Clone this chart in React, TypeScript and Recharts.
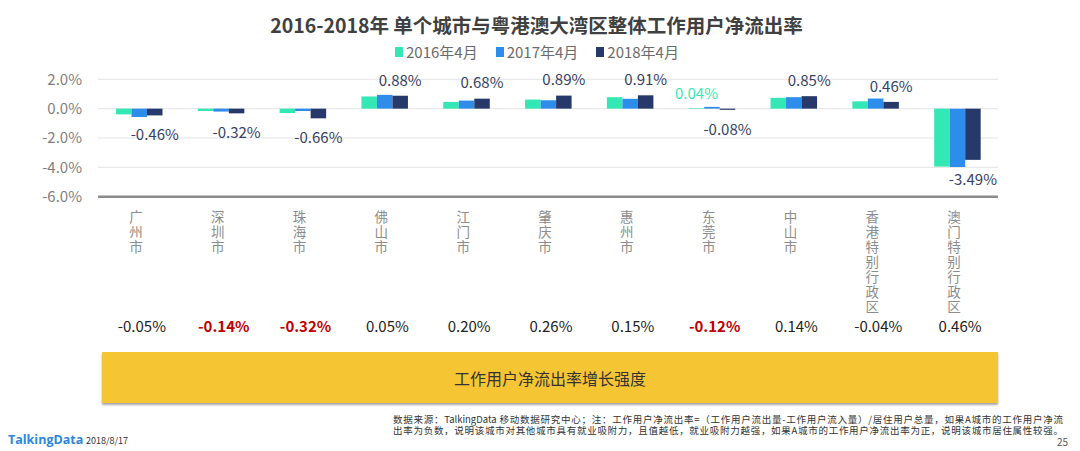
import React from 'react';
import { BarChart, Bar, XAxis, YAxis, CartesianGrid, Legend, LabelList } from 'recharts';

const cities = ['广州市', '深圳市', '珠海市', '佛山市', '江门市', '肇庆市', '惠州市', '东莞市', '中山市', '香港特别行政区', '澳门特别行政区'];
const d2016 = [-0.39, -0.16, -0.3, 0.83, 0.46, 0.62, 0.78, 0.04, 0.74, 0.5, -3.95];
const d2017 = [-0.57, -0.2, -0.16, 0.94, 0.55, 0.57, 0.67, 0.12, 0.78, 0.69, -3.97];
const d2018 = [-0.46, -0.32, -0.66, 0.88, 0.68, 0.89, 0.91, -0.08, 0.85, 0.46, -3.49];
const growth = [-0.05, -0.14, -0.32, 0.05, 0.2, 0.26, 0.15, -0.12, 0.14, -0.04, 0.46];
const growthHighlight = [false, true, true, false, false, false, false, true, false, false, false];
const yTicks = [-6, -4, -2, 0, 2];
const seriesNames = ['2016年4月', '2017年4月', '2018年4月'];
const colors = ['#34E8B5', '#2E8CEB', '#26396A'];
const tealLabelCity = '东莞市';

const data = cities.map((c, i) => ({ city: c, a: d2016[i], b: d2017[i], c: d2018[i] }));

const FONT = "'Noto Sans CJK SC', 'Noto Sans', sans-serif";

const CityTick = (props: any) => {
  const { x, y, payload, index } = props;
  const chars: string[] = String(payload.value).split('');
  const g = growth[index];
  const hl = growthHighlight[index];
  return (
    <g>
      {chars.map((ch, k) => (
        <text key={k} x={x - 3} y={y + 25} textAnchor="middle" fontSize={13.5} fill="#8c8c8c" fontFamily={FONT}>
          {ch}
        </text>
      )).map((el, k) => React.cloneElement(el, { y: y + 25 + k * 15 }))}
      <text x={x + 3} y={y + 135.3} textAnchor="middle" fontSize={15} fill={hl ? '#C00000' : '#222'} fontWeight={hl ? 700 : 400} fontFamily={FONT}>
        {g.toFixed(2) + '%'}
      </text>
    </g>
  );
};

const DarkLabel = (props: any) => {
  const { x, y, width, height, value } = props;
  const top = Math.min(y, y + height);
  const bottom = Math.max(y, y + height);
  const cy = value >= 0 ? top - 16.7 : bottom + 18.5;
  return (
    <text x={x + width / 2} y={cy} textAnchor="middle" dominantBaseline="central" fontSize={15} fill="#364265" fontFamily={FONT}>
      {Number(value).toFixed(2) + '%'}
    </text>
  );
};

const TealLabel = (props: any) => {
  const { x, y, width, height, value, index } = props;
  if (data[index] === undefined) return null;
  if (cities.indexOf(tealLabelCity) !== index) return null;
  const top = Math.min(y, y + height);
  return (
    <text x={x + width / 2} y={top - 16} textAnchor="middle" dominantBaseline="central" fontSize={15} fill={colors[0]} fontFamily={FONT}>
      {Number(value).toFixed(2) + '%'}
    </text>
  );
};

const LegendContent = (props: any) => {
  const { payload } = props;
  return (
    <div style={{ display: 'flex', justifyContent: 'center', fontFamily: FONT, paddingRight: 6 }}>
      {(payload || []).map((p: any, i: number) => (
        <div key={i} style={{ display: 'flex', alignItems: 'center', marginRight: i < 2 ? 18 : 0 }}>
          <span style={{ display: 'inline-block', width: 8, height: 10, background: p.color, marginRight: 3 }} />
          <span style={{ fontSize: 15, color: '#6b6b6b', lineHeight: '20px' }}>{p.value}</span>
        </div>
      ))}
    </div>
  );
};

export default function App() {
  return (
    <div style={{ position: 'absolute', left: 0, top: 0, width: 1080, height: 451, background: '#fff', fontFamily: FONT, overflow: 'hidden' }}>
      <div style={{ position: 'absolute', left: 0, top: 11, width: 1080, textAlign: 'center', paddingRight: 7, boxSizing: 'border-box', fontSize: 19.5, fontWeight: 700, color: '#404040', lineHeight: '28px' }}>
        2016-2018年 单个城市与粤港澳大湾区整体工作用户净流出率
      </div>
      <div style={{ position: 'absolute', left: 0, top: 0 }}>
        <BarChart width={1080} height={451} data={data} margin={{ top: 79.3, right: 82, bottom: 104.3, left: 0 }} barGap={0} barSize={15.5}>
          <CartesianGrid vertical={false} stroke="#e4e4e4" />
          <YAxis
            width={98}
            domain={[-6, 2]}
            ticks={yTicks}
            axisLine={false}
            tickLine={false}
            tickMargin={10}
            tickFormatter={(v: number) => v.toFixed(1) + '%'}
            tick={{ fontSize: 15, fill: '#7f7f7f', fontFamily: FONT }}
          />
          <XAxis
            dataKey="city"
            height={150}
            interval={0}
            tickLine={false}
            tickSize={0}
            tickMargin={0}
            axisLine={{ stroke: '#8a8a8a', strokeWidth: 2.5 }}
            tick={<CityTick />}
          />
          <Legend
            layout="horizontal"
            verticalAlign="middle"
            align="center"
            wrapperStyle={{ top: 42, left: 0, width: 1080 }}
            content={<LegendContent />}
          />
          <Bar dataKey="a" name={seriesNames[0]} fill={colors[0]} isAnimationActive={false}>
            <LabelList dataKey="a" content={<TealLabel />} />
          </Bar>
          <Bar dataKey="b" name={seriesNames[1]} fill={colors[1]} isAnimationActive={false} />
          <Bar dataKey="c" name={seriesNames[2]} fill={colors[2]} isAnimationActive={false}>
            <LabelList dataKey="c" content={<DarkLabel />} />
          </Bar>
        </BarChart>
      </div>
      <div style={{ position: 'absolute', left: 102, top: 352, width: 896, height: 51, background: '#F6C533', boxShadow: '0 2px 2px rgba(0,0,0,0.35)', display: 'flex', alignItems: 'center', justifyContent: 'center', fontSize: 16, color: '#333' }}>
        工作用户净流出率增长强度
      </div>
      <div style={{ position: 'absolute', left: 393, top: 414, width: 670, fontSize: 9.5, lineHeight: '11px', color: '#333', textAlign: 'justify', textAlignLast: 'justify' as any }}>
        <div>数据来源：TalkingData 移动数据研究中心；注：工作用户净流出率=（工作用户流出量-工作用户流入量）/居住用户总量，如果A城市的工作用户净流</div>
        <div>出率为负数，说明该城市对其他城市具有就业吸附力，且值越低，就业吸附力越强，如果A城市的工作用户净流出率为正，说明该城市居住属性较强。</div>
      </div>
      <div style={{ position: 'absolute', left: 8, top: 432, fontSize: 12.5, fontWeight: 700, color: '#2D86D9', fontFamily: "'Open Sans', sans-serif", lineHeight: '16px' }}>TalkingData</div>
      <div style={{ position: 'absolute', left: 86, top: 435, fontSize: 9, color: '#333', lineHeight: '12px' }}>2018/8/17</div>
      <div style={{ position: 'absolute', left: 1057, top: 436, fontSize: 10, color: '#555', lineHeight: '12px' }}>25</div>
    </div>
  );
}
